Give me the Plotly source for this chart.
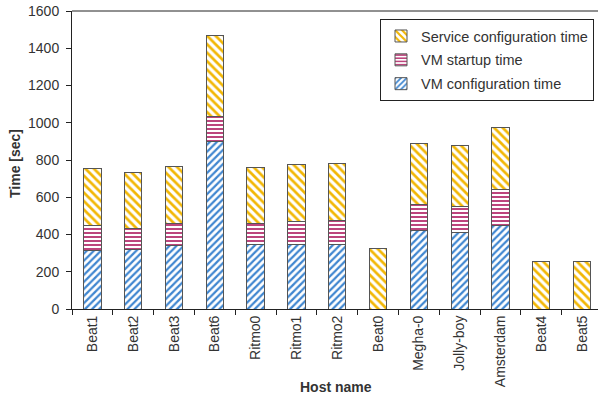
import plotly.graph_objects as go

hosts = ["Beat1", "Beat2", "Beat3", "Beat6", "Ritmo0", "Ritmo1", "Ritmo2",
         "Beat0", "Megha-0", "Jolly-boy", "Amsterdam", "Beat4", "Beat5"]
vm_config = [315, 320, 342, 898, 347, 347, 347, 0, 420, 412, 451, 0, 0]
vm_startup = [136, 113, 116, 138, 111, 122, 127, 0, 142, 137, 192, 0, 0]
service_config = [301, 299, 306, 432, 301, 306, 306, 326, 329, 328, 330, 254, 254]

y_ticks = [0, 200, 400, 600, 800, 1000, 1200, 1400, 1600]

BLUE = "#3f86d0"
MAGENTA = "#b5306e"
YELLOW = "#f2b705"
OUTLINE = "#555555"
TEXT = "#333333"
FONT = "Liberation Sans, Arial, sans-serif"


def bar(name, values, shape, color, size, rank):
    return go.Bar(
        name=name, x=hosts, y=values, legendgroup=name, legendrank=rank,
        marker=dict(
            color="white",
            line=dict(color=OUTLINE, width=1),
            pattern=dict(shape=shape, fgcolor=color, bgcolor="white",
                         size=size, solidity=0.45, fillmode="replace"),
        ),
    )


# stacked bottom to top; legend lists the top segment first
fig = go.Figure([
    bar("VM configuration time", vm_config, "/", BLUE, 5, 3),
    bar("VM startup time", vm_startup, "-", MAGENTA, 4, 2),
    bar("Service configuration time", service_config, "\\", YELLOW, 6, 1),
])

fig.update_layout(
    width=599, height=395,
    margin=dict(l=72, r=1, t=11, b=86),
    barmode="stack", bargap=0.576,
    plot_bgcolor="white", paper_bgcolor="white",
    font=dict(family=FONT, size=14, color=TEXT),
    showlegend=True,
    legend=dict(
        traceorder="grouped", tracegroupgap=2,
        x=0.9924, y=0.973, xanchor="right", yanchor="top",
        bgcolor="white", bordercolor="#222222", borderwidth=1,
        font=dict(size=14.5, color=TEXT),
        itemwidth=30,
    ),
    xaxis=dict(
        range=[-0.5, 12.39],
        tickangle=-90, showline=True, linecolor="#222222", linewidth=1,
        ticks="outside", ticklen=5, tickcolor="#222222", tickson="boundaries",
        showgrid=False, tickfont=dict(size=14, color=TEXT),
    ),
    yaxis=dict(
        range=[0, 1600], tickvals=y_ticks, showline=True, linecolor="#222222",
        linewidth=1, ticks="outside", ticklen=5, tickcolor="#222222",
        showgrid=False, zeroline=False, tickfont=dict(size=14, color=TEXT),
        ticklabelstandoff=4,
    ),
    annotations=[
        dict(text="<b>Host name</b>", xref="paper", yref="paper",
             x=0.502, y=-0.262, xanchor="center", yanchor="middle",
             showarrow=False, font=dict(size=14, color=TEXT)),
        dict(text="<b>Time [sec]</b>", xref="paper", yref="paper",
             x=-0.1084, y=0.49, xanchor="center", yanchor="middle",
             textangle=-90, showarrow=False, font=dict(size=14, color=TEXT)),
    ],
    shapes=[dict(type="line", xref="paper", yref="paper", x0=0, x1=1, y0=1, y1=1,
                 line=dict(color="#222222", width=1))],
)

fig.write_html("out.html")
